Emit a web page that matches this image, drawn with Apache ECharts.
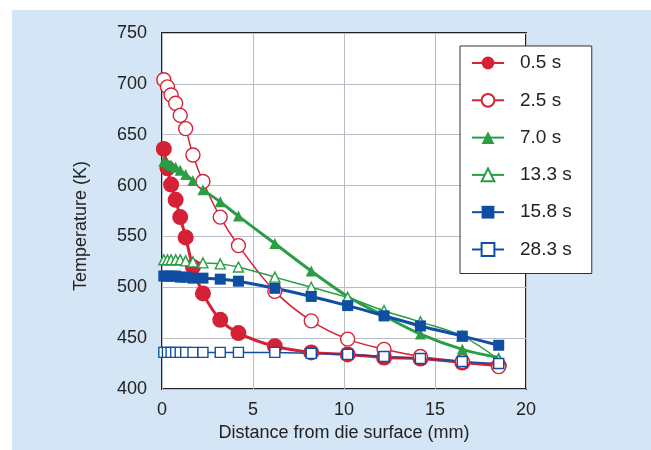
<!DOCTYPE html>
<html>
<head>
<meta charset="utf-8">
<script src="https://cdn.jsdelivr.net/npm/echarts@6/dist/echarts.min.js"></script>
<style>
  html, body { margin: 0; padding: 0; background: #fff; }
  #chart { width: 651px; height: 450px; }
</style>
</head>
<body>
<div id="chart"></div>
<script>
  // distance from die surface (mm), shared by all curves
  var distance = [0.1, 0.3, 0.5, 0.75, 1.0, 1.3, 1.7, 2.25, 3.2, 4.2, 6.2, 8.2, 10.2, 12.2, 14.2, 16.5, 18.5]

  var t05 = [636, 617, 601, 586, 569, 549, 520, 494, 468, 455, 442, 436, 434, 431, 430, 426, 423]
  var t25 = [704, 697, 689, 681, 669, 656, 630, 604, 569, 541, 496, 467, 449, 439, 432, 427, 422]
  var t70 = [624, 622, 620, 618, 615, 611, 605, 596, 584, 570, 543, 516, 491, 472, 454, 439, 431]
  var t133 = [527, 527, 527, 527, 527, 526, 525, 524, 523, 520, 510, 500, 490, 477, 466, 452, 429]
  var t158 = [511, 511, 511, 511, 510, 510, 509, 509, 508, 506, 499, 491, 482, 472, 462, 452, 443]
  var t283 = [436, 436, 436, 436, 436, 436, 436, 436, 436, 436, 436, 435, 434, 432, 430, 427, 425]

  var seriesNames = ['0.5 s', '2.5 s', '7.0 s', '13.3 s', '15.8 s', '28.3 s']

  var RED = '#d42135'
  var GREEN = '#2a9e45'
  var BLUE = '#0f4ea3'
  var FONT = 'Liberation Sans'

  function pairs (ys) {
    return distance.map(function (x, i) { return [x, ys[i]] })
  }

  function makeSeries (name, ys, color, symbol, size, filled) {
    return {
      name: name,
      type: 'line',
      data: pairs(ys),
      smooth: 0.35,
      symbol: symbol,
      symbolSize: size,
      lineStyle: { color: color, width: filled ? 3 : 1.5 },
      itemStyle: filled
        ? { color: color, borderColor: color, borderWidth: 0 }
        : { color: '#fff', borderColor: color, borderWidth: 1.4 },
      emphasis: { disabled: true }
    }
  }

  var myChart = echarts.init(document.getElementById('chart'))

  var option = {
    animation: false,
    backgroundColor: '#fff',
    textStyle: { fontFamily: FONT },
    graphic: [{
      type: 'rect',
      left: 12,
      top: 10,
      z: -10,
      shape: { width: 639, height: 440 },
      style: { fill: '#d4e5f5' }
    }],
    grid: {
      left: 162,
      top: 33,
      right: 125,
      bottom: 61,
      show: true,
      backgroundColor: '#fff',
      borderColor: '#222',
      borderWidth: 2
    },
    legend: {
      orient: 'vertical',
      left: 460,
      top: 46,
      data: seriesNames,
      itemWidth: 32,
      itemHeight: 16,
      itemGap: 18.3,
      padding: [7.5, 20, 14.5, 11],
      backgroundColor: '#fff',
      borderColor: '#333',
      borderWidth: 1,
      textStyle: { fontSize: 19, color: '#222', fontFamily: FONT, padding: [0, 0, 0, 11] }
    },
    xAxis: {
      type: 'value',
      min: 0,
      max: 20,
      interval: 5,
      name: 'Distance from die surface (mm)',
      nameLocation: 'middle',
      nameGap: 34,
      nameTextStyle: { fontSize: 18, color: '#222', fontFamily: FONT },
      axisLine: { show: false },
      axisTick: { show: false },
      axisLabel: { fontSize: 18, color: '#222', margin: 12, fontFamily: FONT },
      splitLine: { lineStyle: { color: '#b9bdc6', width: 1 } }
    },
    yAxis: {
      type: 'value',
      min: 400,
      max: 750,
      interval: 50,
      name: 'Temperature (K)',
      nameLocation: 'middle',
      nameGap: 72,
      nameTextStyle: { fontSize: 18, color: '#222', fontFamily: FONT, padding: [0, 30, 0, 0] },
      axisLine: { show: false },
      axisTick: { show: false },
      axisLabel: { fontSize: 18, color: '#222', margin: 15, fontFamily: FONT },
      splitLine: { lineStyle: { color: '#b9bdc6', width: 1 } }
    },
    series: [
      makeSeries(seriesNames[0], t05, RED, 'circle', 16, true),
      makeSeries(seriesNames[1], t25, RED, 'circle', 14, false),
      makeSeries(seriesNames[2], t70, GREEN, 'triangle', 11, true),
      makeSeries(seriesNames[3], t133, GREEN, 'triangle', 10, false),
      makeSeries(seriesNames[4], t158, BLUE, 'rect', 11, true),
      makeSeries(seriesNames[5], t283, BLUE, 'rect', 10, false)
    ]
  }
  myChart.setOption(option)
</script>
</body>
</html>
